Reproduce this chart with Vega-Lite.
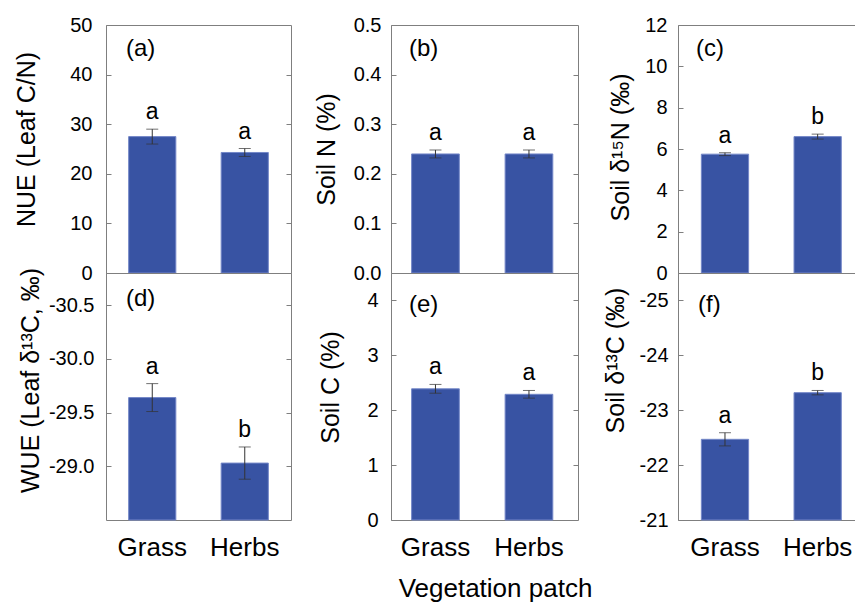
{
  "$schema": "https://vega.github.io/schema/vega-lite/v6.json",
  "padding": {"left": 13, "top": 14, "right": 0, "bottom": 0},
  "background": "white",
  "datasets": {
    "d": [
      {"panel": "a", "patch": "Grass", "mean": 27.5, "lo": 26.0, "hi": 29.0, "sig": "a"},
      {"panel": "a", "patch": "Herbs", "mean": 24.3, "lo": 23.5, "hi": 25.1, "sig": "a"},
      {"panel": "b", "patch": "Grass", "mean": 0.24, "lo": 0.232, "hi": 0.248, "sig": "a"},
      {"panel": "b", "patch": "Herbs", "mean": 0.24, "lo": 0.232, "hi": 0.248, "sig": "a"},
      {"panel": "c", "patch": "Grass", "mean": 5.75, "lo": 5.68, "hi": 5.82, "sig": "a"},
      {"panel": "c", "patch": "Herbs", "mean": 6.6, "lo": 6.48, "hi": 6.72, "sig": "b"},
      {"panel": "d", "patch": "Grass", "mean": -29.64, "lo": -29.77, "hi": -29.51, "sig": "a"},
      {"panel": "d", "patch": "Herbs", "mean": -29.03, "lo": -29.18, "hi": -28.88, "sig": "b"},
      {"panel": "e", "patch": "Grass", "mean": 2.39, "lo": 2.31, "hi": 2.47, "sig": "a"},
      {"panel": "e", "patch": "Herbs", "mean": 2.29, "lo": 2.22, "hi": 2.36, "sig": "a"},
      {"panel": "f", "patch": "Grass", "mean": -22.47, "lo": -22.59, "hi": -22.35, "sig": "a"},
      {"panel": "f", "patch": "Herbs", "mean": -23.32, "lo": -23.36, "hi": -23.28, "sig": "b"}
    ]
  },
  "config": {
    "font": "Liberation Sans",
    "view": {"stroke": "#7f7f7f", "strokeWidth": 1},
    "axis": {"labelFont": "Liberation Sans", "titleFont": "Liberation Sans", "labelColor": "#000", "titleColor": "#000", "titleFontWeight": "normal", "grid": false, "domain": false, "tickColor": "#7f7f7f", "labelFontSize": 20, "titleFontSize": 25},
    "title": {"font": "Liberation Sans", "fontWeight": "normal", "color": "#000"},
    "text": {"font": "Liberation Sans"}
  },
  "title": {"text": "Vegetation patch", "orient": "bottom", "anchor": "middle", "fontSize": 26, "offset": 15, "dx": 61},
  "columns": 3,
  "spacing": {"row": 0, "column": 100},
  "align": "each",
  "bounds": "flush",
  "resolve": {"scale": {"x": "independent", "y": "independent"}},
  "concat": [
        {
          "width": 185, "height": 248,
          "data": {"name": "d"},
          "transform": [{"filter": "datum.panel == 'a'"}],
          "title": {"text": "(a)", "anchor": "start", "frame": "group", "orient": "top", "offset": -46, "dx": 20, "fontSize": 24},
          "encoding": {"x": {"field": "patch", "type": "nominal", "sort": ["Grass", "Herbs"], "scale": {"paddingInner": 0.49, "paddingOuter": 0.245}, "axis": null}},
          "layer": [
            {"mark": {"type": "bar", "color": "#3853a3", "stroke": "#7487c8", "strokeWidth": 1},
             "encoding": {"y": {"field": "mean", "type": "quantitative", "scale": {"domain": [0, 50], "nice": false}, "axis": {"title": "NUE (Leaf C/N)", "values": [0, 10, 20, 30, 40, 50], "format": "d", "tickSize": -5, "labelPadding": 19, "titleX": -67, "titleY": 114}}}},
            {"mark": {"type": "errorbar", "ticks": {"size": 12}, "color": "#333333", "thickness": 1},
             "encoding": {"y": {"field": "lo", "type": "quantitative", "axis": null}, "y2": {"field": "hi"}}},
            {"mark": {"type": "text", "baseline": "alphabetic", "dy": -10, "fontSize": 23, "color": "#000"},
             "encoding": {"y": {"field": "hi", "type": "quantitative", "axis": {"orient": "right", "labels": false, "title": null, "values": [10, 20, 30, 40], "tickSize": -5}}, "text": {"field": "sig"}}}
          ],
          "resolve": {"axis": {"y": "independent"}}
        },
        {
          "width": 187, "height": 248,
          "data": {"name": "d"},
          "transform": [{"filter": "datum.panel == 'b'"}],
          "title": {"text": "(b)", "anchor": "start", "frame": "group", "orient": "top", "offset": -46, "dx": 18, "fontSize": 24},
          "encoding": {"x": {"field": "patch", "type": "nominal", "sort": ["Grass", "Herbs"], "scale": {"paddingInner": 0.49, "paddingOuter": 0.245, "align": 0.45}, "axis": null}},
          "layer": [
            {"mark": {"type": "bar", "color": "#3853a3", "stroke": "#7487c8", "strokeWidth": 1},
             "encoding": {"y": {"field": "mean", "type": "quantitative", "scale": {"domain": [0, 0.5], "nice": false}, "axis": {"title": "Soil N (%)", "values": [0, 0.1, 0.2, 0.3, 0.4, 0.5], "format": ".1f", "tickSize": -5, "labelPadding": 15, "titleX": -52, "titleY": 124}}}},
            {"mark": {"type": "errorbar", "ticks": {"size": 12}, "color": "#333333", "thickness": 1},
             "encoding": {"y": {"field": "lo", "type": "quantitative", "axis": null}, "y2": {"field": "hi"}}},
            {"mark": {"type": "text", "baseline": "alphabetic", "dy": -10, "fontSize": 23, "color": "#000"},
             "encoding": {"y": {"field": "hi", "type": "quantitative", "axis": {"orient": "right", "labels": false, "title": null, "values": [0.1, 0.2, 0.3, 0.4], "tickSize": -5}}, "text": {"field": "sig"}}}
          ],
          "resolve": {"axis": {"y": "independent"}}
        },
        {
          "width": 177, "height": 248,
          "data": {"name": "d"},
          "transform": [{"filter": "datum.panel == 'c'"}],
          "title": {"text": "(c)", "anchor": "start", "frame": "group", "orient": "top", "offset": -46, "dx": 18, "fontSize": 24},
          "encoding": {"x": {"field": "patch", "type": "nominal", "sort": ["Grass", "Herbs"], "scale": {"paddingInner": 0.49, "paddingOuter": 0.2, "align": 0.63}, "axis": null}},
          "layer": [
            {"mark": {"type": "bar", "color": "#3853a3", "stroke": "#7487c8", "strokeWidth": 1},
             "encoding": {"y": {"field": "mean", "type": "quantitative", "scale": {"domain": [0, 12], "nice": false}, "axis": {"title": "Soil δ¹⁵N (‰)", "values": [0, 2, 4, 6, 8, 10, 12], "format": "d", "tickSize": -5, "labelPadding": 16, "titleX": -45, "titleY": 122}}}},
            {"mark": {"type": "errorbar", "ticks": {"size": 12}, "color": "#333333", "thickness": 1},
             "encoding": {"y": {"field": "lo", "type": "quantitative", "axis": null}, "y2": {"field": "hi"}}},
            {"mark": {"type": "text", "baseline": "alphabetic", "dy": -10, "fontSize": 23, "color": "#000"},
             "encoding": {"y": {"field": "hi", "type": "quantitative", "axis": null}, "text": {"field": "sig"}}}
          ],
          "resolve": {"axis": {"y": "independent"}}
        },
        {
          "width": 185, "height": 247,
          "data": {"name": "d"},
          "transform": [{"filter": "datum.panel == 'd'"}],
          "title": {"text": "(d)", "anchor": "start", "frame": "group", "orient": "top", "offset": -44, "dx": 20, "fontSize": 24},
          "encoding": {"x": {"field": "patch", "type": "nominal", "sort": ["Grass", "Herbs"], "scale": {"paddingInner": 0.49, "paddingOuter": 0.245}, "axis": {"title": null, "labelAngle": 0, "labelFontSize": 26, "ticks": false, "labelPadding": 14}}},
          "layer": [
            {"mark": {"type": "bar", "color": "#3853a3", "stroke": "#7487c8", "strokeWidth": 1},
             "encoding": {"y": {"field": "mean", "type": "quantitative", "scale": {"domain": [-30.8, -28.5], "reverse": true, "zero": false, "nice": false}, "axis": {"title": "WUE (Leaf δ¹³C, ‰)", "values": [-30.5, -30, -29.5, -29], "format": ".1f", "labelExpr": "replace(datum.label, '−', '-')", "tickSize": -5, "labelPadding": 17, "titleX": -63, "titleY": 107}},
              "y2": {"datum": -28.5}}},
            {"mark": {"type": "errorbar", "ticks": {"size": 12}, "color": "#333333", "thickness": 1},
             "encoding": {"y": {"field": "lo", "type": "quantitative", "axis": null}, "y2": {"field": "hi"}}},
            {"mark": {"type": "text", "baseline": "alphabetic", "dy": -10, "fontSize": 23, "color": "#000"},
             "encoding": {"y": {"field": "lo", "type": "quantitative", "axis": {"orient": "right", "labels": false, "title": null, "values": [-30.5, -30, -29.5, -29], "tickSize": -5}}, "text": {"field": "sig"}}}
          ],
          "resolve": {"axis": {"y": "independent"}}
        },
        {
          "width": 187, "height": 247,
          "data": {"name": "d"},
          "transform": [{"filter": "datum.panel == 'e'"}],
          "title": {"text": "(e)", "anchor": "start", "frame": "group", "orient": "top", "offset": -44, "dx": 18, "fontSize": 24},
          "encoding": {"x": {"field": "patch", "type": "nominal", "sort": ["Grass", "Herbs"], "scale": {"paddingInner": 0.49, "paddingOuter": 0.245, "align": 0.45}, "axis": {"title": null, "labelAngle": 0, "labelFontSize": 26, "ticks": false, "labelPadding": 14}}},
          "layer": [
            {"mark": {"type": "bar", "color": "#3853a3", "stroke": "#7487c8", "strokeWidth": 1},
             "encoding": {"y": {"field": "mean", "type": "quantitative", "scale": {"domain": [0, 4.5], "nice": false}, "axis": {"title": "Soil C (%)", "values": [0, 1, 2, 3, 4], "format": "d", "tickSize": -5, "labelPadding": 18, "titleX": -48, "titleY": 114}}}},
            {"mark": {"type": "errorbar", "ticks": {"size": 12}, "color": "#333333", "thickness": 1},
             "encoding": {"y": {"field": "lo", "type": "quantitative", "axis": null}, "y2": {"field": "hi"}}},
            {"mark": {"type": "text", "baseline": "alphabetic", "dy": -10, "fontSize": 23, "color": "#000"},
             "encoding": {"y": {"field": "hi", "type": "quantitative", "axis": {"orient": "right", "labels": false, "title": null, "values": [1, 2, 3, 4], "tickSize": -5}}, "text": {"field": "sig"}}}
          ],
          "resolve": {"axis": {"y": "independent"}}
        },
        {
          "width": 177, "height": 247,
          "data": {"name": "d"},
          "transform": [{"filter": "datum.panel == 'f'"}],
          "title": {"text": "(f)", "anchor": "start", "frame": "group", "orient": "top", "offset": -44, "dx": 20, "fontSize": 24},
          "encoding": {"x": {"field": "patch", "type": "nominal", "sort": ["Grass", "Herbs"], "scale": {"paddingInner": 0.49, "paddingOuter": 0.2, "align": 0.63}, "axis": {"title": null, "labelAngle": 0, "labelFontSize": 26, "ticks": false, "labelPadding": 14}}},
          "layer": [
            {"mark": {"type": "bar", "color": "#3853a3", "stroke": "#7487c8", "strokeWidth": 1},
             "encoding": {"y": {"field": "mean", "type": "quantitative", "scale": {"domain": [-25.5, -21], "reverse": true, "zero": false, "nice": false}, "axis": {"title": "Soil δ¹³C (‰)", "values": [-25, -24, -23, -22, -21], "format": "d", "labelExpr": "replace(datum.label, '−', '-')", "tickSize": -5, "labelPadding": 15, "titleX": -50, "titleY": 87}},
              "y2": {"datum": -21}}},
            {"mark": {"type": "errorbar", "ticks": {"size": 12}, "color": "#333333", "thickness": 1},
             "encoding": {"y": {"field": "lo", "type": "quantitative", "axis": null}, "y2": {"field": "hi"}}},
            {"mark": {"type": "text", "baseline": "alphabetic", "dy": -10, "fontSize": 23, "color": "#000"},
             "encoding": {"y": {"field": "lo", "type": "quantitative", "axis": null}, "text": {"field": "sig"}}}
          ],
          "resolve": {"axis": {"y": "independent"}}
        }
  ]
}
